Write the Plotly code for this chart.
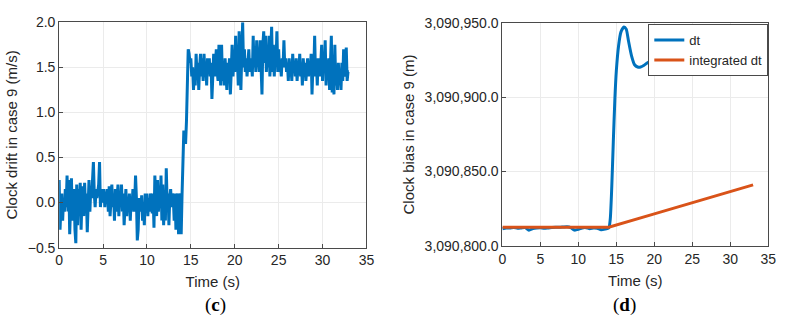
import numpy as np
import plotly.graph_objects as go

# ---------------- data ----------------
# (c) clock drift, sampled every 0.1 s from 0 to 33 s
drift_vals = [
    0.25, -0.30, -0.05, 0.10, -0.20, 0.05, -0.10, 0.15, -0.05, 0.30,
    -0.10, 0.25, -0.35, 0.05, 0.27, -0.20, 0.00, 0.15, -0.30, -0.45,
    0.20, -0.25, 0.15, -0.10, 0.22, -0.30, 0.05, 0.18, -0.15, 0.22,
    -0.05, 0.10, -0.33, 0.05, 0.25, -0.10, 0.15, 0.05, 0.20, 0.45,
    0.10, -0.05, 0.15, 0.05, 0.12, 0.20, 0.45, -0.05, 0.10, 0.15,
    0.00, 0.15, -0.05, 0.12, 0.05, 0.15, -0.10, 0.18, -0.15, 0.05,
    0.20, -0.05, 0.10, -0.20, 0.15, -0.10, 0.05, 0.20, -0.15, 0.10,
    0.00, 0.20, -0.10, 0.10, -0.25, 0.05, 0.15, -0.15, 0.05, -0.05,
    0.10, -0.20, 0.05, -0.05, 0.15, -0.10, 0.00, 0.30, 0.05, -0.42,
    -0.30, 0.05, 0.00, -0.10, 0.08, -0.20, 0.00, -0.25, 0.10, -0.05,
    0.10, -0.15, 0.05, -0.10, 0.10, 0.05, -0.12, 0.10, -0.28, 0.30,
    0.00, -0.15, 0.25, -0.10, 0.05, 0.00, 0.30, -0.20, 0.20, -0.25,
    0.05, -0.20, 0.38, 0.00, 0.10, -0.25, 0.05, 0.15, -0.05, 0.10,
    0.05, -0.20, 0.10, -0.30, 0.05, 0.10, -0.35, 0.05, 0.10, -0.35,
    0.10, 0.40, 0.80, 0.75, 0.65, 0.90, 1.20, 1.70, 1.65, 1.55,
    1.60, 1.40, 1.50, 1.25, 1.45, 1.30, 1.65, 1.40, 1.55, 1.25,
    1.50, 1.65, 1.40, 1.60, 1.35, 1.65, 1.45, 1.55, 1.30, 1.60,
    1.45, 1.60, 1.40, 1.55, 1.15, 1.50, 1.65, 1.40, 1.60, 1.70,
    1.45, 1.35, 1.75, 1.40, 1.30, 1.75, 1.35, 1.55, 1.30, 1.60,
    1.45, 1.25, 1.55, 1.40, 1.60, 1.20, 1.45, 1.75, 1.40, 1.60,
    1.45, 1.85, 1.50, 1.60, 1.30, 1.90, 1.55, 1.25, 1.65, 2.00,
    1.50, 1.70, 1.45, 1.60, 1.40, 1.55, 1.70, 1.45, 1.60, 1.55,
    1.40, 1.85, 1.50, 1.70, 1.45, 1.80, 1.55, 1.60, 1.45, 1.80,
    1.40, 1.20, 1.75, 1.90, 1.55, 1.85, 1.45, 1.70, 1.50, 1.85,
    1.40, 1.65, 1.95, 1.45, 1.75, 1.40, 1.65, 1.55, 1.90, 1.45,
    1.70, 1.45, 1.55, 1.40, 1.60, 1.50, 1.80, 1.50, 1.60, 1.45,
    1.55, 1.35, 1.60, 1.45, 1.50, 1.35, 1.65, 1.45, 1.55, 1.40,
    1.60, 1.35, 1.50, 1.45, 1.65, 1.40, 1.55, 1.30, 1.60, 1.45,
    1.55, 1.35, 1.45, 1.60, 1.40, 1.55, 1.45, 1.65, 1.20, 1.50,
    1.45, 1.85, 1.40, 1.55, 1.30, 1.60, 1.50, 1.40, 1.55, 1.75,
    1.35, 1.65, 1.45, 1.80, 1.30, 1.55, 1.40, 1.60, 1.25, 1.50,
    1.85, 1.22, 1.55, 1.20, 1.75, 1.30, 1.45, 1.25, 1.55, 1.35,
    1.40, 1.25, 1.55, 1.35, 1.70, 1.40, 1.45, 1.72, 1.35, 1.45,
    1.45,
]
drift_time = [round(i * 0.1, 1) for i in range(len(drift_vals))]

# (d) clock bias dt (m)
dt_time = [0, 0.5, 1, 1.5, 2, 2.5, 3, 3.5, 4, 4.5, 5, 5.5, 6, 6.5, 7, 7.5,
           8, 8.5, 9, 9.5, 10, 10.5, 11, 11.5, 12, 12.5, 13, 13.5, 14,
           14.2, 14.4, 14.6, 14.8, 15.0, 15.3, 15.6, 16.0, 16.3, 16.6,
           17.0, 17.4, 17.8, 18.2, 18.6, 19.0, 20, 22, 25, 28, 30, 32.5, 33]
dt_vals = [3090811.5, 3090812, 3090812, 3090812.3, 3090811.8, 3090812, 3090812.2,
           3090810.5, 3090811.5, 3090812, 3090812.2, 3090811.8, 3090812, 3090812.3,
           3090812.5, 3090812.4, 3090812.6, 3090812.8, 3090812.2, 3090810.5,
           3090811, 3090812, 3090812.2, 3090811.5, 3090812, 3090811.8, 3090810.8,
           3090811.2, 3090812, 3090818, 3090840, 3090870, 3090898, 3090918,
           3090935, 3090944, 3090947.5, 3090946, 3090938, 3090928, 3090922,
           3090920.5, 3090920.5, 3090921.5, 3090923, 3090926, 3090930, 3090936,
           3090940, 3090943, 3090945.5, 3090946.5]

# integrated dt (m)
int_time = [0, 14, 20, 25, 33]
int_vals = [3090812.5, 3090812.5, 3090821.5, 3090829, 3090841]

# ---------------- style ----------------
W, H = 796, 326
BLUE = "#0072BD"
ORANGE = "#D95319"
AX = "#4a4a4a"
TXT = "#262626"
GRID = "#ebebeb"
FONT = "Liberation Sans, Arial, sans-serif"


def px_x(p):
    return p / W


def px_y(p):
    return 1 - p / H


fig = go.Figure()
fig.add_trace(go.Scatter(x=drift_time, y=drift_vals, mode="lines",
                         line=dict(color=BLUE, width=3), showlegend=False,
                         xaxis="x", yaxis="y"))
fig.add_trace(go.Scatter(x=dt_time, y=dt_vals, mode="lines", name="dt",
                         line=dict(color=BLUE, width=3, shape="spline", smoothing=0.6),
                         xaxis="x2", yaxis="y2"))
fig.add_trace(go.Scatter(x=int_time, y=int_vals, mode="lines", name="integrated dt",
                         line=dict(color=ORANGE, width=3),
                         xaxis="x2", yaxis="y2"))

common = dict(showline=True, linecolor=AX, linewidth=1, mirror=True,
              ticks="inside", ticklen=4, tickcolor=AX, showgrid=True,
              gridcolor=GRID, gridwidth=1, zeroline=False,
              tickfont=dict(family=FONT, size=14, color=TXT))

fig.update_layout(
    width=W, height=H,
    margin=dict(l=0, r=0, t=0, b=0),
    paper_bgcolor="white", plot_bgcolor="white",
    font=dict(family=FONT, size=14, color=TXT),
    xaxis=dict(domain=[px_x(56), px_x(368)], range=[0, 35], dtick=5, anchor="y",
               title=dict(text="Time (s)", font=dict(size=15, color=TXT), standoff=9),
               **common),
    yaxis=dict(domain=[px_y(252), px_y(15)], range=[-0.5, 2.0], dtick=0.5,
               tickformat=".1f", anchor="x",
               title=dict(text="Clock drift in case 9 (m/s)", font=dict(size=15, color=TXT),
                          standoff=6),
               **common),
    xaxis2=dict(domain=[px_x(506), px_x(776)], range=[0, 35], dtick=5, anchor="y2",
                title=dict(text="Time (s)", font=dict(size=15, color=TXT), standoff=9),
                **common),
    yaxis2=dict(domain=[px_y(250), px_y(16)], range=[3090800, 3090950], dtick=50,
                tickformat=",.1f", anchor="x2",
                title=dict(text="Clock bias in case 9 (m)", font=dict(size=15, color=TXT),
                           standoff=6),
                **common),
    legend=dict(x=px_x(776), y=px_y(17), xanchor="right", yanchor="top",
                bgcolor="white", bordercolor=AX, borderwidth=1,
                font=dict(family=FONT, size=13, color=TXT),
                tracegroupgap=0, itemwidth=30),
    annotations=[
        dict(text="(<b>c</b>)", x=px_x(215), y=px_y(312), xref="paper", yref="paper",
             xanchor="center", yanchor="middle",
             showarrow=False, font=dict(family="Liberation Serif, serif", size=19, color="black")),
        dict(text="(<b>d</b>)", x=px_x(630), y=px_y(312), xref="paper", yref="paper",
             xanchor="center", yanchor="middle",
             showarrow=False, font=dict(family="Liberation Serif, serif", size=19, color="black")),
    ],
)

fig.write_html("out.html")
